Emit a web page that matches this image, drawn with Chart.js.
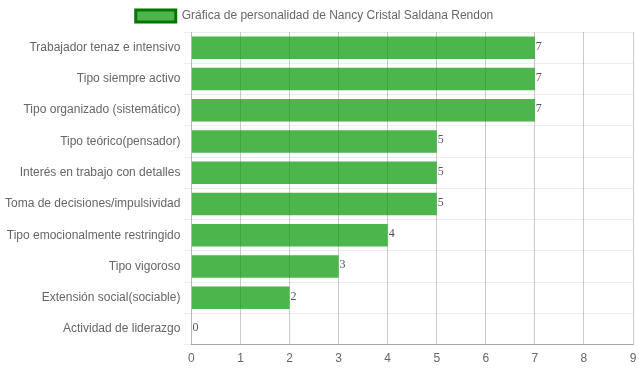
<!DOCTYPE html>
<html>
<head>
<meta charset="utf-8">
<script src="https://cdn.jsdelivr.net/npm/chart.js@4/dist/chart.umd.min.js"></script>
<style>
  body { margin: 0; background: #fff; }
  #wrap { width: 639px; height: 372px; }
</style>
</head>
<body>
<div id="wrap"><canvas id="grafica"></canvas></div>
<script>
// Datos de la grafica
const categorias = [
    'Trabajador tenaz e intensivo',
    'Tipo siempre activo',
    'Tipo organizado (sistemático)',
    'Tipo teórico(pensador)',
    'Interés en trabajo con detalles',
    'Toma de decisiones/impulsividad',
    'Tipo emocionalmente restringido',
    'Tipo vigoroso',
    'Extensión social(sociable)',
    'Actividad de liderazgo'
];
const valores = [7, 7, 7, 5, 5, 5, 4, 3, 2, 0];
const etiquetaSerie = 'Gráfica de personalidad de Nancy Cristal Saldana Rendon';
const ticksX = [0, 1, 2, 3, 4, 5, 6, 7, 8, 9];

Chart.defaults.font.family = "'Liberation Sans', Arial, sans-serif";
Chart.defaults.font.size = 12;
Chart.defaults.color = '#666';

// Escribe el valor al final de cada barra
const valoresPlugin = {
    id: 'valores',
    afterLayout(chart) {
        // la leyenda va un poco a la izquierda
        if (chart.legend) {
            chart.legend.left -= 6;
            chart.legend.right -= 6;
        }
    },
    afterDatasetsDraw(chart) {
        const ctx = chart.ctx;
        ctx.save();
        ctx.font = "12px 'Liberation Serif', serif";
        ctx.fillStyle = '#555';
        ctx.textAlign = 'left';
        ctx.textBaseline = 'alphabetic';
        chart.getDatasetMeta(0).data.forEach((bar, i) => {
            ctx.fillText(valores[i], bar.x + 1, bar.y + 2);
        });
        ctx.restore();
    }
};

new Chart(document.getElementById('grafica'), {
    type: 'bar',
    data: {
        labels: categorias,
        datasets: [{
            label: etiquetaSerie,
            data: valores,
            backgroundColor: 'rgba(0,150,0,0.7)',
            borderWidth: 0
        }]
    },
    options: {
        indexAxis: 'y',
        responsive: true,
        maintainAspectRatio: false,
        animation: false,
        layout: { padding: { left: 2, right: 0, top: -1, bottom: -1 } },
        plugins: {
            legend: {
                position: 'top',
                labels: {
                    boxWidth: 40,
                    boxHeight: 12,
                    color: '#666',
                    padding: 11,
                    generateLabels(chart) {
                        return [{
                            text: etiquetaSerie,
                            fillStyle: 'rgba(0,150,0,0.7)',
                            strokeStyle: 'rgba(0,120,0,1)',
                            lineWidth: 3,
                            fontColor: '#666',
                            datasetIndex: 0
                        }];
                    }
                }
            },
            tooltip: { enabled: false }
        },
        scales: {
            x: {
                min: 0,
                max: 9,
                ticks: { stepSize: 1, padding: 7, callback: (v) => ticksX.includes(v) ? v : '' },
                grid: { color: 'rgba(0,0,0,0.2)', drawTicks: false },
                border: { color: 'rgba(0,0,0,0.3)' },
                afterFit: (s) => { s.paddingRight = 6; }
            },
            y: {
                grid: { color: 'rgba(0,0,0,0.07)', offset: true },
                border: { color: 'rgba(0,0,0,0.1)' }
            }
        }
    },
    plugins: [valoresPlugin]
});
</script>
</body>
</html>
